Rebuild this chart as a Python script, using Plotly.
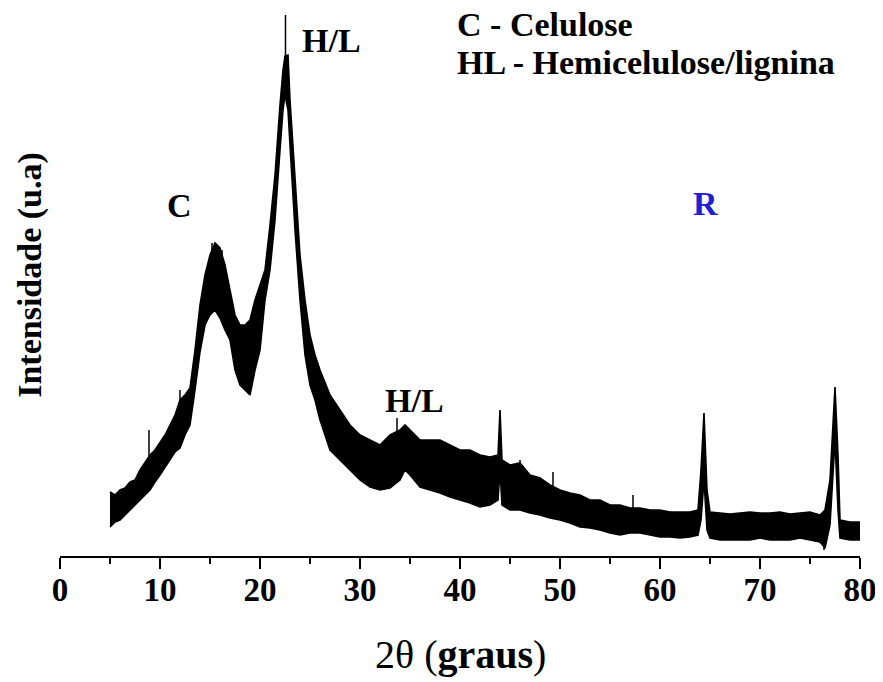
import plotly.graph_objects as go

# 2-theta sample positions (degrees) for the noisy XRD band
two_theta = [5.0, 5.5, 6.0, 6.5, 7.0, 7.5, 8.0, 8.5, 9.0, 9.5, 10.0, 10.5, 11.0, 11.5, 12.0, 12.5,
             13.0, 13.5, 14.0, 14.5, 15.0, 15.5, 16.0, 16.5, 17.0, 17.5, 18.0, 18.5, 19.0, 19.5,
             20.0, 20.5, 21.0, 21.5, 22.0, 22.3, 22.5, 22.8, 23.0, 23.5, 24.0, 24.5, 25.0, 25.5,
             26.0, 27.0, 28.0, 29.0, 30.0, 31.0, 32.0, 33.0, 34.0, 34.5, 35.0, 36.0, 37.0, 38.0,
             39.0, 40.0, 41.0, 42.0, 43.0, 43.8, 44.0, 44.2, 45.0, 46.0, 47.0, 48.0, 49.0, 50.0,
             51.0, 52.0, 53.0, 54.0, 55.0, 56.0, 57.0, 58.0, 59.0, 60.0, 61.0, 62.0, 63.0, 63.8,
             64.1, 64.4, 64.7, 65.0, 66.0, 67.0, 68.0, 69.0, 70.0, 71.0, 72.0, 73.0, 74.0, 75.0,
             76.0, 76.5, 77.0, 77.3, 77.5, 77.8, 78.0, 79.0, 80.0]
# upper edge of the noise band (a.u.)
intensity_high = [64, 61, 66, 68, 74, 76, 86, 94, 101, 106, 114, 121, 131, 141, 156, 161,
                  168, 206, 251, 281, 301, 313, 308, 291, 266, 241, 231, 231, 236, 256,
                  271, 286, 331, 381, 451, 486, 500, 501, 456, 376, 301, 256, 221, 201,
                  186, 161, 146, 131, 121, 116, 111, 121, 126, 131, 126, 116, 116, 116,
                  111, 106, 106, 101, 99, 101, 146, 96, 91, 93, 81, 78, 71, 66,
                  63, 61, 56, 56, 51, 51, 48, 48, 46, 46, 44, 44, 44, 46,
                  86, 143, 66, 44, 43, 42, 43, 44, 43, 43, 44, 42, 43, 44,
                  41, 46, 76, 136, 169, 101, 36, 34, 34]
# lower edge of the noise band (a.u.)
intensity_low = [29, 34, 36, 41, 46, 51, 56, 61, 66, 74, 81, 88, 96, 104, 108, 121,
                 131, 166, 204, 231, 241, 246, 238, 226, 216, 186, 171, 166, 161, 186,
                 206, 256, 286, 336, 406, 446, 461, 446, 411, 326, 256, 201, 171, 156,
                 136, 106, 96, 86, 76, 69, 66, 68, 76, 86, 81, 69, 66, 63,
                 59, 56, 53, 49, 51, 56, 86, 51, 46, 46, 43, 41, 38, 36,
                 33, 29, 28, 26, 23, 21, 23, 23, 21, 19, 19, 18, 19, 21,
                 36, 76, 26, 18, 16, 16, 16, 16, 18, 16, 16, 16, 18, 16,
                 14, 8, 31, 86, 116, 46, 18, 16, 16]

# isolated noise spikes
spike_theta = [8.9, 12.0, 15.2, 16.2, 22.55, 26.9, 33.7, 46.0, 49.3, 57.3, 76.4]
spike_high = [126, 166, 313, 306, 541, 158, 138, 96, 84, 61, 30]
spike_low = [90, 130, 280, 270, 480, 130, 100, 70, 55, 35, 6]

x_ticks = [0, 10, 20, 30, 40, 50, 60, 70, 80]

band_x = two_theta + two_theta[::-1]
band_y = intensity_high + intensity_low[::-1]

sx, sy = [], []
for t, h, l in zip(spike_theta, spike_high, spike_low):
    sx += [t, t, None]
    sy += [l, h, None]

fig = go.Figure()
fig.add_trace(go.Scatter(x=band_x, y=band_y, fill="toself", fillcolor="black",
                         mode="lines", line=dict(color="black", width=1.6),
                         hoverinfo="skip", showlegend=False))
fig.add_trace(go.Scatter(x=sx, y=sy, mode="lines", line=dict(color="black", width=1.5),
                         hoverinfo="skip", showlegend=False))

serif = "Liberation Serif, Times New Roman, serif"

fig.update_layout(
    width=883, height=682,
    margin=dict(l=52, r=31, t=2, b=134),
    paper_bgcolor="white", plot_bgcolor="white",
    font=dict(family=serif, color="black"),
    xaxis=dict(range=[0, 80], tickvals=x_ticks, ticktext=[str(v) for v in x_ticks],
               showline=True, linecolor="black", linewidth=2, showgrid=False, zeroline=False,
               ticks="outside", ticklen=11, tickwidth=2, tickcolor="black",
               minor=dict(dtick=5, ticks="outside", ticklen=6, tickwidth=2, tickcolor="black"),
               tickfont=dict(family=serif, size=33, color="black", weight="bold"),
               ticklabelstandoff=-8),
    yaxis=dict(range=[0, 546], visible=False),
)

ann_font = dict(family=serif, size=34, color="black", weight="bold")
fig.add_annotation(x=11.96, y=351, xref="x", yref="y", text="C", showarrow=False, font=ann_font)
fig.add_annotation(x=27.1, y=516, xref="x", yref="y", text="H/L", showarrow=False, font=ann_font)
fig.add_annotation(x=35.4, y=156, xref="x", yref="y", text="H/L", showarrow=False, font=ann_font)
fig.add_annotation(x=64.5, y=353, xref="x", yref="y", text="R", showarrow=False,
                   font=dict(family=serif, size=34, color="#2020d0", weight="bold"))
fig.add_annotation(x=39.5, y=532, xref="x", yref="y", text="C - Celulose", showarrow=False,
                   xanchor="left", yanchor="middle", font=ann_font)
fig.add_annotation(x=39.5, y=494, xref="x", yref="y", text="HL - Hemicelulose/lignina",
                   showarrow=False, xanchor="left", yanchor="middle", font=ann_font)

fig.add_annotation(x=-0.0375, y=0.515, xref="paper", yref="paper", text="Intensidade (u.a)",
                   textangle=-90, showarrow=False, xanchor="center", yanchor="middle",
                   font=ann_font)
fig.add_annotation(x=0.5, y=-0.181, xref="paper", yref="paper",
                   text="2θ (<b>graus</b>)", showarrow=False, xanchor="center", yanchor="middle",
                   font=dict(family=serif, size=40, color="black"))

fig.write_html("out.html")
